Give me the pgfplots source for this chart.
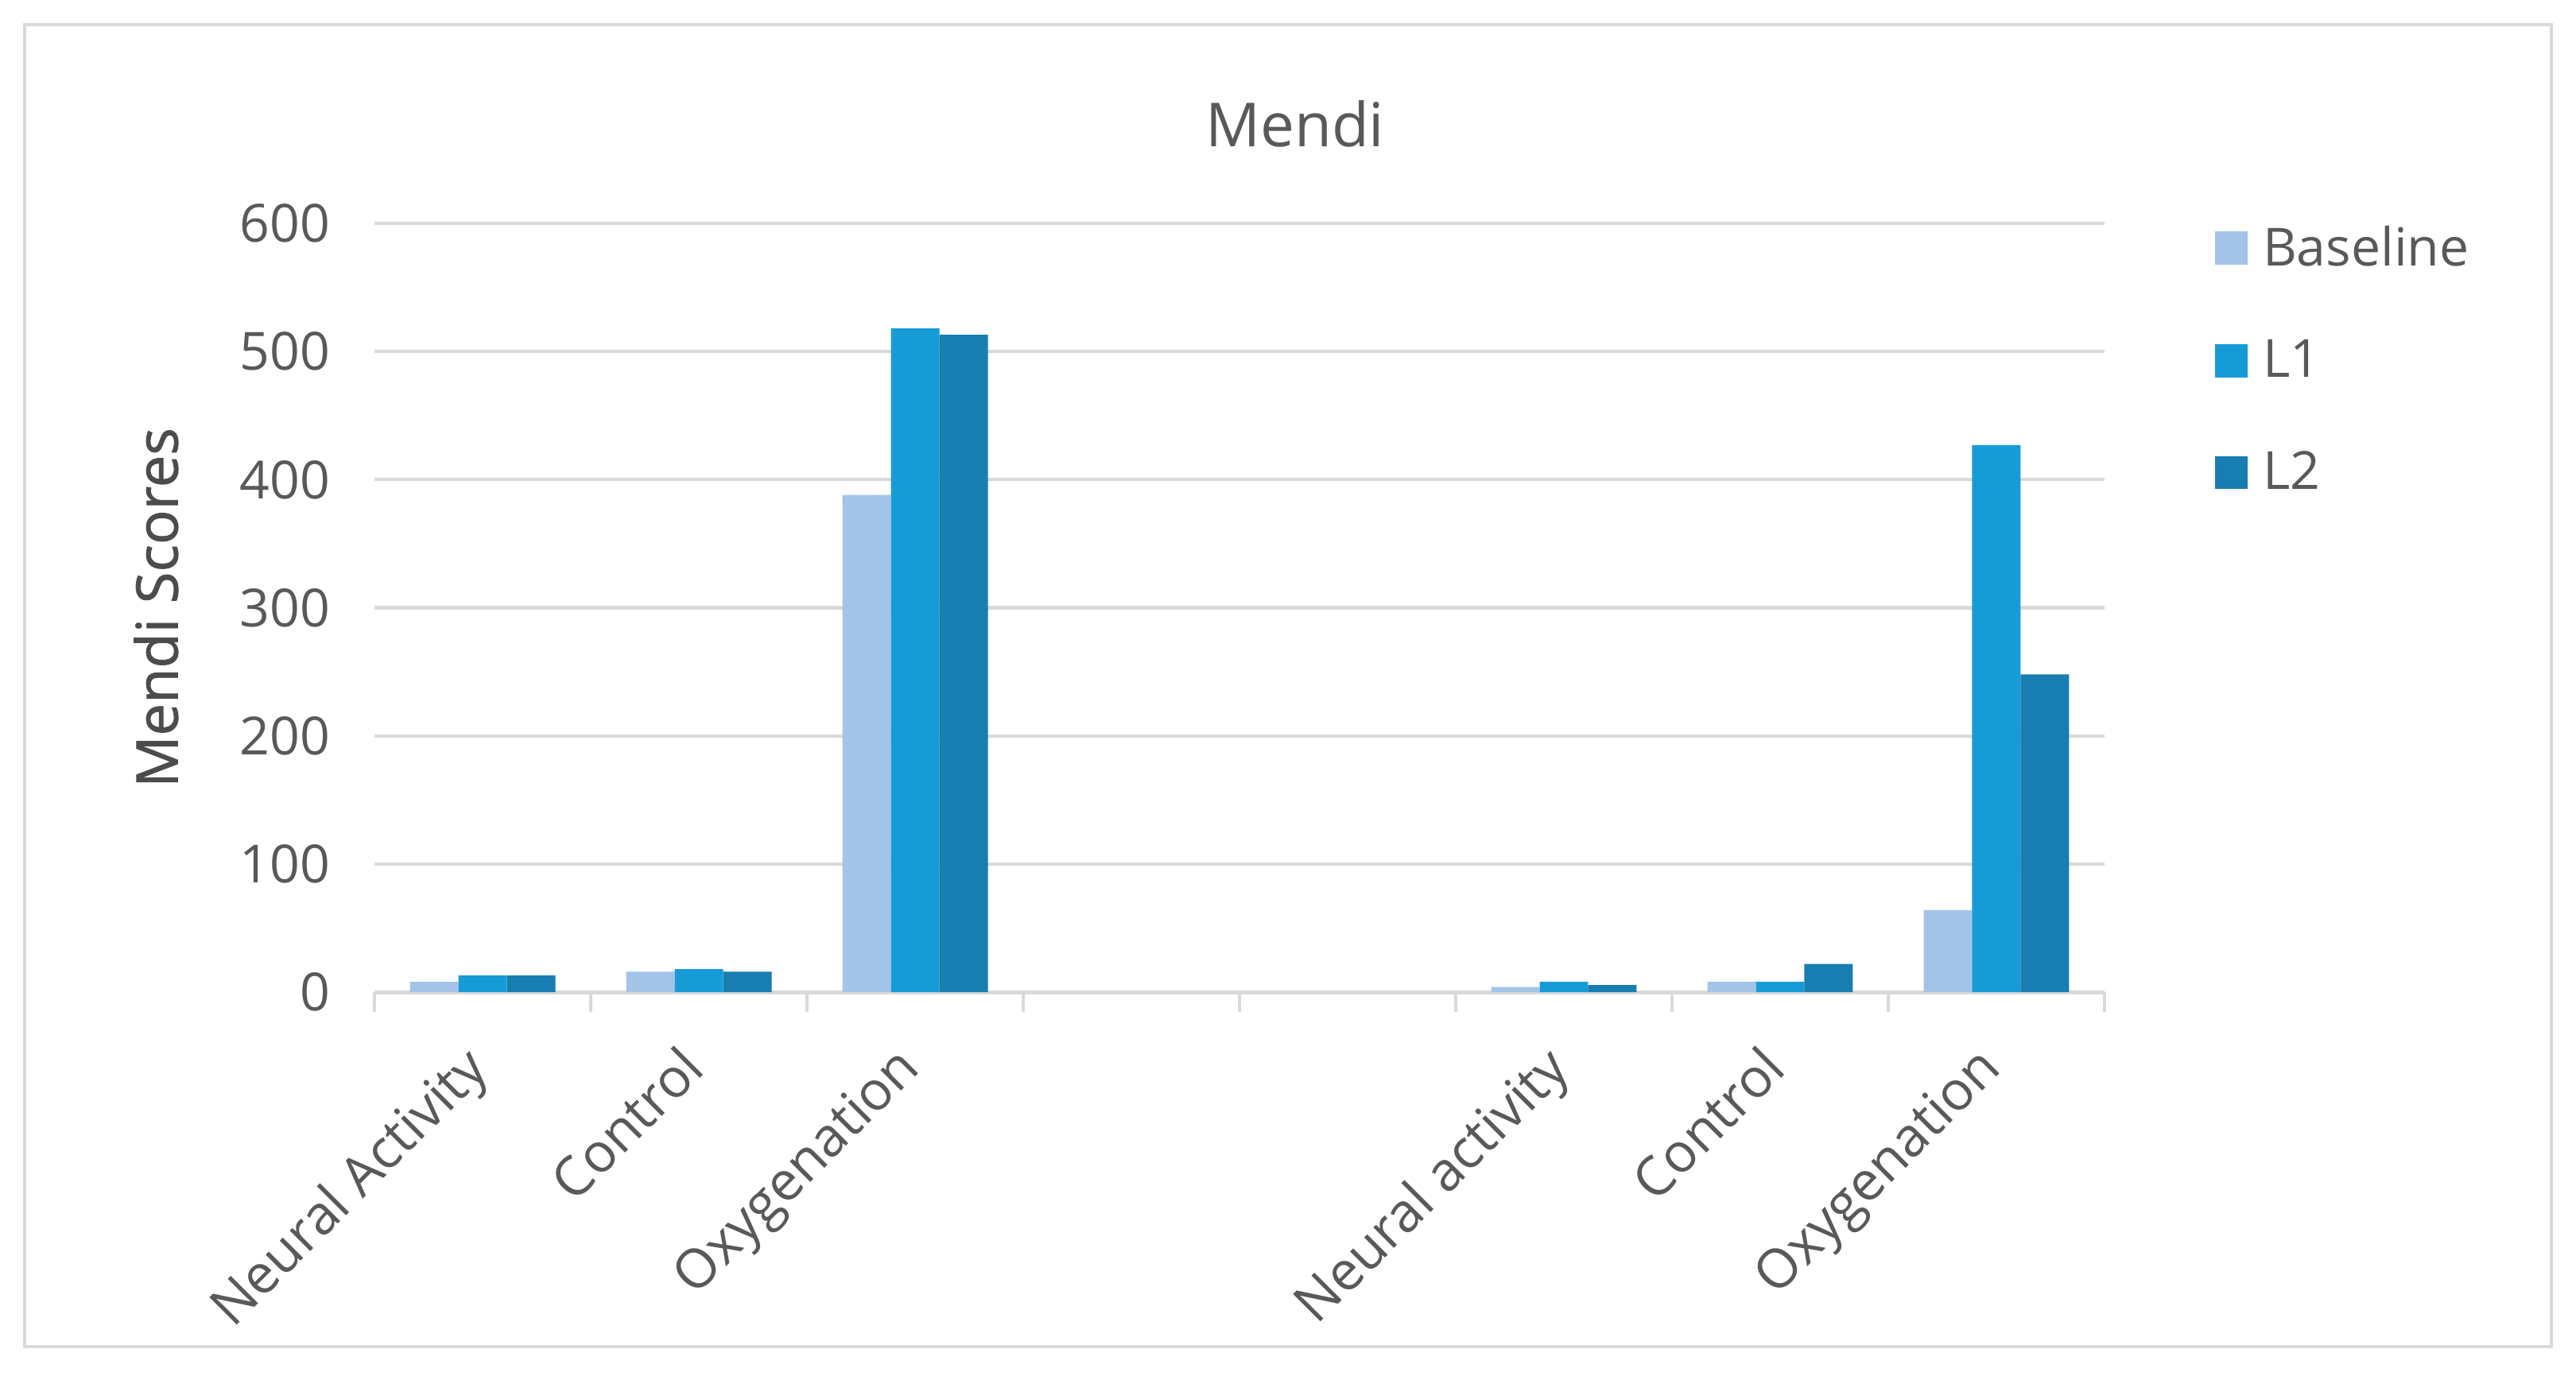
\documentclass[border=0pt]{standalone}
\usepackage{pgfplots}
\pgfplotsset{compat=1.18}
\usepackage{fontspec}
\setmainfont{Open Sans}
\newfontfamily\sbfont[FakeBold=1.2]{Open Sans}
\definecolor{txt}{HTML}{595959}
\definecolor{gridc}{HTML}{D9D9D9}
\definecolor{cBase}{HTML}{A3C4E8}
\definecolor{cLone}{HTML}{179BD7}
\definecolor{cLtwo}{HTML}{187DB1}
\begin{document}
\begin{tikzpicture}
\useasboundingbox (-114pt,-118pt) rectangle (670pt,302pt);
\fill[white] (-114pt,-118pt) rectangle (670pt,302pt);
\draw[gridc, line width=1pt] (-106.5pt,-108pt) rectangle (662.5pt,294.5pt);
\begin{axis}[
  at={(0,0)}, anchor=south west,
  scale only axis, width=526.5pt, height=234pt,
  xmin=-0.5, xmax=7.5, ymin=0, ymax=600,
  ybar=0pt, bar width=14.75pt,
  axis x line*=bottom, axis y line*=left,
  y axis line style={draw=none},
  x axis line style={gridc, line width=1.2pt, -},
  ytick={0,100,200,300,400,500,600},
  ytick style={draw=none},
  ymajorgrids, grid style={gridc, line width=1pt},
  xtick={0,1,2,5,6,7},
  xticklabels={Neural Activity,Control,Oxygenation,Neural activity,Control,Oxygenation},
  major tick length=0pt,
  extra x ticks={-0.5,0.5,1.5,2.5,3.5,4.5,5.5,6.5,7.5},
  extra x tick labels={},
  extra x tick style={major tick length=6pt, tick align=outside, tick style={gridc, line width=1pt}},
  xticklabel style={rotate=45, anchor=north east, font=\fontsize{16.5}{19}\selectfont, text=txt, yshift=-2.7pt, xshift=-11.9pt},
  yticklabel style={font=\fontsize{16}{19}\selectfont, text=txt, xshift=-10pt},
  /pgf/number format/assume math mode=true,
  every axis y label/.style={at={(axis description cs:-0.1263,0.5)}, rotate=90, anchor=center},
  ylabel={Mendi Scores},
  ylabel style={font=\sbfont\fontsize{17.5}{20}\selectfont, text=txt!85!black},
  title={Mendi},
  title style={at={(axis description cs:0.532,1.104)}, anchor=center, font=\fontsize{18.5}{22}\selectfont, text=txt},
  legend cell align=left,
  legend style={at={(axis description cs:1.0636,1.0064)}, anchor=north west, draw=none, fill=none,
    font=\fontsize{16}{19}\selectfont, text=txt, row sep=17pt, inner sep=0pt,
    /tikz/every odd column/.append style={column sep=2.5pt}},
  legend image code/.code={\fill[#1] (0pt,-5pt) rectangle (10pt,5pt);},
]
\addplot[fill=cBase, draw=none] coordinates {(0,8) (1,16) (2,388) (5,4) (6,8) (7,64)};
\addplot[fill=cLone, draw=none] coordinates {(0,13) (1,18) (2,518) (5,8) (6,8) (7,427)};
\addplot[fill=cLtwo, draw=none] coordinates {(0,13) (1,16) (2,513) (5,5.5) (6,22) (7,248)};
\legend{Baseline,L1,L2}
\end{axis}
\end{tikzpicture}
\end{document}
